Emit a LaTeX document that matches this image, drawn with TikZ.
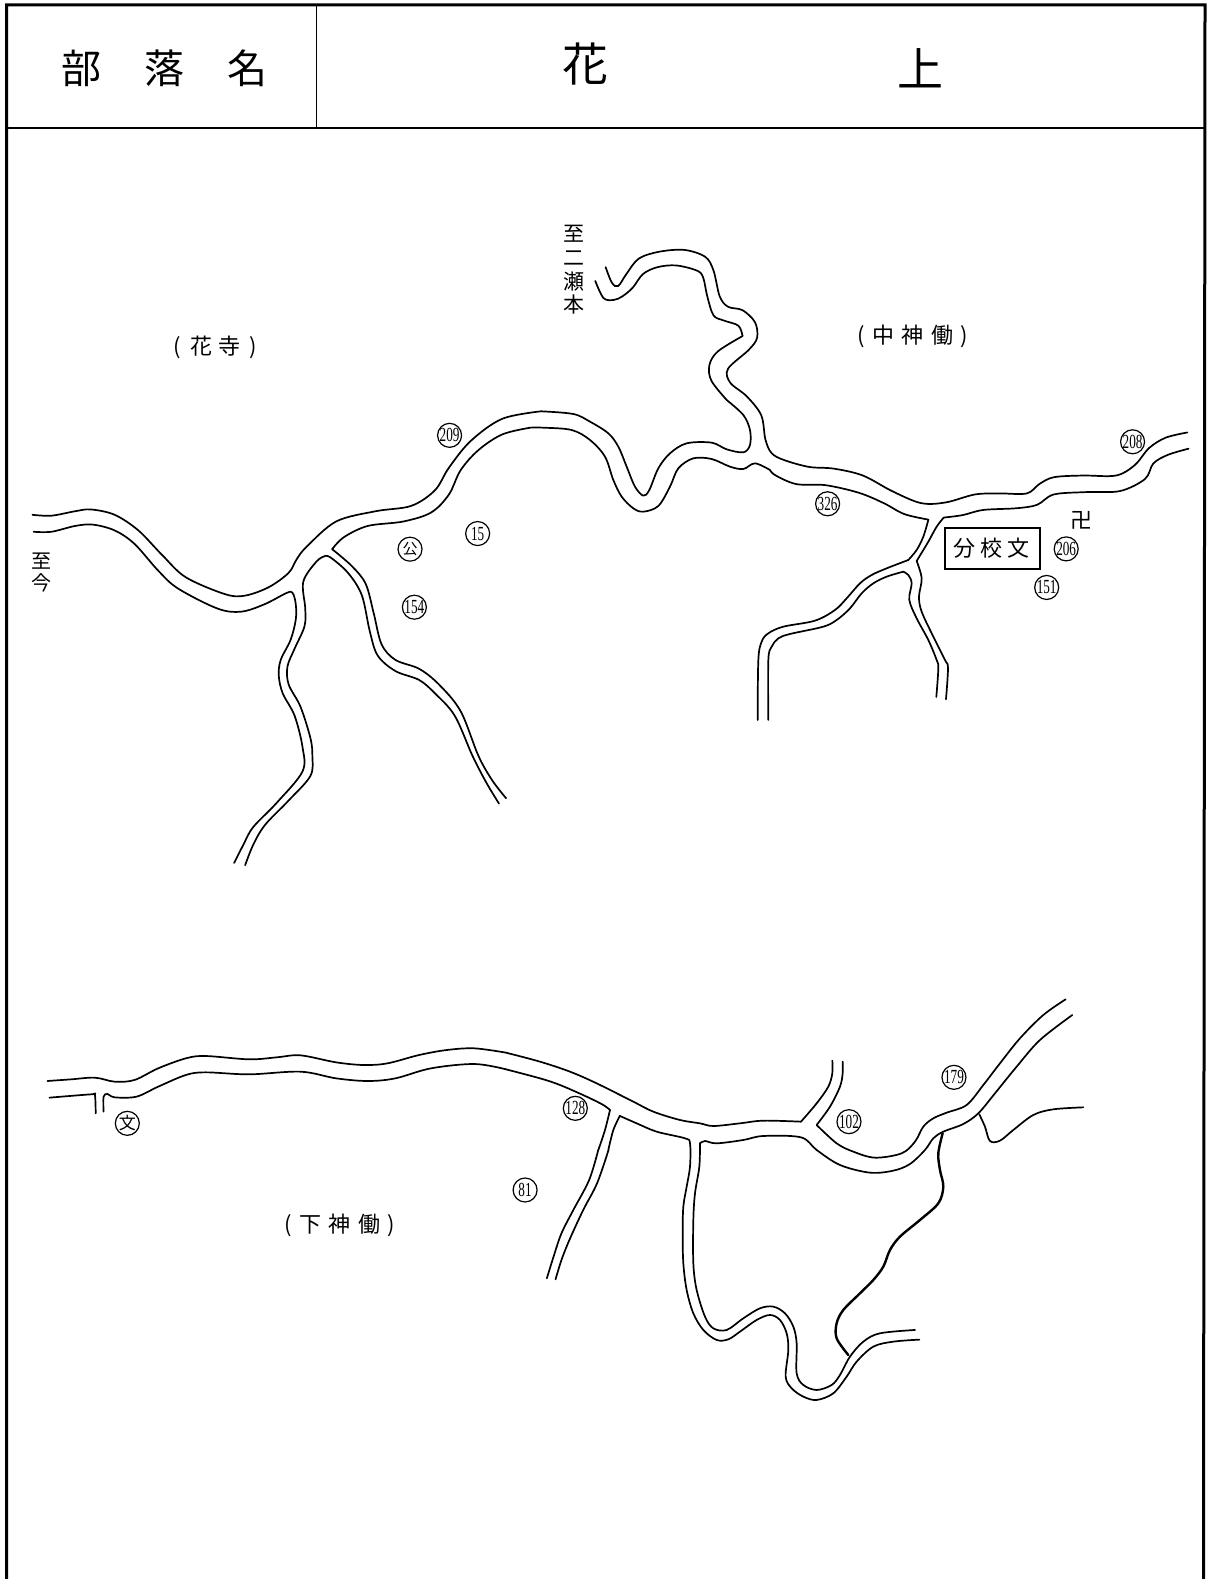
\documentclass[tikz,border=0pt]{standalone}
\usepackage{fontspec}
\newfontfamily\jp{Noto Sans CJK JP}
\newfontfamily\numf{Liberation Serif}
\newcommand{\rd}[1]{\draw[road] plot[smooth,tension=.55] coordinates {#1};}
\newcommand{\cn}[1]{{\numf\fontsize{20}{20}\selectfont\scalebox{.66}[1]{#1}}}
\tikzset{
  road/.style={line width=1.7pt,line cap=round,line join=round},
  creek/.style={line width=2.4pt,line cap=round,line join=round},
  frameline/.style={line width=3pt},
  zone/.style={inner sep=0pt,font=\jp\fontsize{22}{24}\selectfont,align=center},
  head/.style={inner sep=0pt,font=\jp\fontsize{40}{40}\selectfont},
  title/.style={inner sep=0pt,font=\jp\fontsize{46}{46}\selectfont},
  mark circle/.style={circle,draw,line width=1.2pt,minimum size=24pt,inner sep=0pt},
  za/.style={shift={(0,180)},x=.3954pt,y=-.4464pt},
  zb/.style={shift={(560,200)},x=.4149pt,y=-.3444pt},
  zc/.style={shift={(0,1030)},x=.3954pt,y=-.3333pt},
  zd/.style={shift={(600,980)},x=.3333pt,y=-.3333pt},
  ze/.style={shift={(740,500)},x=.3333pt,y=-.3333pt},
  zf/.style={shift={(540,1050)},x=.3333pt,y=-.3333pt},
  zg/.style={shift={(530,400)},x=.3333pt,y=-.3333pt}
}
\begin{document}
\begin{tikzpicture}[x=1pt,y=-1pt]
\useasboundingbox (0,0) rectangle (1208,1579);
\fill[white] (0,0) rectangle (1208,1579);
% frame
\draw[frameline] (6.5,1579) -- (6.5,5) -- (1205,5) -- (1203.5,1579);
\draw[line width=2pt] (6.5,127.5) -- (1205,127.5);
\draw[line width=1pt] (316,5) -- (316,127.5);
% header
\node[head] (h1) at (81,68) {部};
\node[head] (h2) at (164,68) {落};
\node[head] (h3) at (247,68) {名};
\node[title] (t1) at (585,64) {花};
\node[title] (t2) at (920,68) {上};
% upper left
\begin{scope}[za]
\rd{(82,750)(130,752)(190,742)(230,738)(290,750)(350,785)(410,840)(470,890)(570,928)(620,931)(680,912)(730,880)(750,850)(775,822)(850,765)(950,742)(1040,730)(1100,695)(1135,645)(1190,585)(1270,535)(1370,518)}
\rd{(85,788)(130,788)(190,775)(235,772)(290,785)(340,815)(400,875)(450,915)(550,960)(610,967)(670,950)(725,925)(740,925)(748,950)(748,985)(735,1030)(710,1075)(705,1110)(715,1150)(745,1200)(765,1270)(765,1325)(700,1395)(640,1450)(615,1490)(592,1530)}
\rd{(820,843)(800,855)(767,900)(772,960)(770,1000)(745,1050)(727,1090)(730,1130)(760,1180)(785,1250)(790,1290)(785,1335)(730,1390)(670,1445)(640,1490)(620,1535)}
\rd{(820,843)(835,845)(880,880)(915,930)(935,1010)(955,1065)(1000,1100)(1060,1120)(1100,1150)(1150,1200)(1195,1290)(1230,1350)(1262,1397)}
\rd{(840,827)(890,865)(925,905)(945,970)(965,1040)(1000,1075)(1060,1095)(1110,1130)(1165,1190)(1210,1290)(1245,1345)(1280,1385)}
\rd{(840,827)(870,800)(930,775)(1020,765)(1090,745)(1135,705)(1165,650)(1210,605)(1270,570)(1340,555)}
\node[mark circle] (c209) at (1137,572) {\cn{209}};
\node[mark circle] (c15) at (1208,792) {\cn{15}};
\node[mark circle] (ckou) at (1037,827) {\jp\fontsize{15}{15}\selectfont 公};
\node[mark circle] (c154) at (1048,957) {\cn{154}};
\end{scope}
% arc and dip of the upper road
\begin{scope}[zg]
\rd{(35,34)(130,42)(180,65)(235,100)(265,140)(290,200)(315,260)(340,287)(358,270)(385,205)(420,160)(470,130)(545,128)(590,148)(640,157)(660,135)(660,90)(640,45)(590,0)}
\rd{(-1,83)(40,83)(125,90)(180,120)(225,170)(250,240)(275,290)(310,325)(340,335)(385,318)(420,260)(445,205)(490,175)(545,177)(600,200)(640,207)(675,190)(720,210)}
\end{scope}
% upper right
\begin{scope}[zb]
\rd{(402,581)(365,525)(360,480)(380,440)(440,395)}
\rd{(440,395)(430,365)(395,350)(370,335)(355,280)(345,225)(330,205)(280,190)(235,195)(200,215)(175,255)(150,280)(130,290)(105,285)(85,235)}
\rd{(110,195)(125,240)(140,250)(160,215)(190,170)(240,150)(300,145)(350,165)(370,205)(385,280)(405,310)(440,320)(470,355)(475,400)(455,435)(405,490)(410,530)(450,570)(485,625)(495,695)(510,735)(540,755)(600,775)(660,780)(730,800)(800,845)(870,880)(930,878)(1000,855)(1060,852)(1125,852)(1155,825)(1190,805)(1260,800)(1340,800)(1385,770)(1420,720)(1460,690)(1512,675)}
\rd{(506,784)(520,800)(570,825)(640,828)(720,850)(780,880)(830,912)(888,928)}
\rd{(1515,722)(1465,740)(1430,765)(1410,810)(1350,845)(1270,848)(1190,855)(1150,885)(1100,895)(1020,900)(970,915)(925,922)}
\draw[line width=2pt] (928,952) rectangle (1157,1070);
\node[mark circle] (c326) at (645,882) {\cn{326}};
\node[mark circle] (c206) at (1220,1013) {\cn{206}};
\node[mark circle] (c151) at (1173,1125) {\cn{151}};
\node[mark circle] (c208) at (1380,702) {\cn{208}};
\node[zone] (bunko) at (1040,1010) {分\hspace{5pt}校\hspace{5pt}文};
\node[zone] (manji) at (1258,930) {卍};
\end{scope}
% junction south of the upper road
\begin{scope}[ze]
\rd{(565,60)(550,110)(530,150)(505,180)}
\rd{(505,180)(440,205)(395,225)(360,250)(320,295)(285,330)(225,362)(130,380)(85,400)(65,425)(55,480)(53,660)}
\rd{(490,215)(440,230)(400,250)(365,280)(330,325)(290,360)(250,380)(150,402)(115,415)(95,440)(85,480)(85,660)}
\rd{(611,53)(590,80)(565,125)(530,183)}
\rd{(530,183)(545,235)(537,290)(545,335)(580,410)(615,480)(624,504)(618,598)}
\rd{(490,215)(505,225)(515,250)(508,300)(530,355)(565,420)(590,480)(595,505)(589,591)}
\end{scope}
% lower left
\begin{scope}[zc]
\rd{(120,153)(180,148)(240,143)(290,155)(340,150)(400,115)(470,85)(520,78)(630,88)(700,82)(760,76)(850,97)(920,105)(980,100)(1060,75)(1130,60)(1200,55)(1280,68)}
\rd{(125,203)(230,193)(240,195)(242,250)}
\rd{(262,245)(262,200)(272,192)(290,202)(345,200)(400,170)(470,135)(520,127)(630,133)(760,125)(850,145)(930,153)(1000,145)(1090,115)(1200,102)(1280,118)}
\rd{(1513,360)(1490,450)(1450,540)(1420,610)(1400,680)(1383,745)}
\rd{(1539,360)(1510,460)(1475,540)(1440,630)(1420,690)(1405,748)}
\node[mark circle] (c128) at (1455,235) {\cn{128}};
\node[mark circle] (c81) at (1328,480) {\cn{81}};
\node[mark circle] (cbun) at (322,280) {\jp\fontsize{17}{17}\selectfont 文};
\end{scope}
% junction of the lower road
\begin{scope}[zf]
\rd{(-102,8)(0,35)(90,65)(170,100)(280,155)(340,185)(420,210)(480,220)(520,228)(600,220)(670,212)(783,215)}
\rd{(-102,58)(0,85)(60,105)(140,140)(190,165)(210,180)}
\rd{(210,180)(195,240)(175,300)}
\rd{(240,197)(220,240)(205,300)}
\end{scope}
% lower right
\begin{scope}[zd]
\rd{(603,425)(650,370)(685,320)(697,280)(697,242)}
\rd{(60,408)(110,430)(170,455)(255,475)(270,490)(270,560)(260,620)(250,680)(248,760)(250,850)(260,930)(280,1000)(310,1050)(350,1080)(385,1078)(420,1055)(470,1020)(510,1005)(540,1020)(560,1060)(565,1110)(557,1190)(575,1225)(610,1250)(650,1260)(700,1240)(740,1190)(770,1145)(820,1100)(880,1085)(958,1079)}
\rd{(300,490)(298,560)(285,640)(280,720)(280,850)(290,930)(315,1010)(340,1045)(380,1050)(430,1015)(480,985)(520,980)(555,1000)(580,1040)(590,1090)(590,1180)(610,1215)(650,1230)(695,1215)(720,1185)(750,1130)(790,1085)(840,1060)(945,1050)}
\rd{(300,490)(315,483)(350,490)(430,480)(490,468)(603,472)(650,510)(720,555)(810,578)(880,572)(930,552)(975,510)(1000,475)(1030,455)(1090,432)(1135,400)(1185,340)(1250,260)(1320,180)(1417,105)}
\rd{(650,435)(690,380)(720,320)(728,280)(728,245)}
\rd{(650,435)(710,490)(760,515)(825,533)(905,520)(945,485)(970,440)(1000,415)(1040,398)(1100,375)(1150,315)(1200,250)(1260,175)(1330,105)(1397,58)}
\draw[creek] plot[smooth,tension=.55] coordinates {(1028,460)(1015,520)(1020,570)(1030,620)(1015,670)(960,720)(900,770)(870,810)(850,860)(820,900)(780,940)(730,990)(710,1030)(710,1075)(745,1125)};
\rd{(1138,403)(1155,440)(1170,483)(1200,482)(1240,450)(1300,405)(1360,388)(1450,382)}
\node[mark circle] (c102) at (747,425) {\cn{102}};
\node[mark circle] (c179) at (1062,292) {\cn{179}};
\end{scope}
% place names
\node[zone] (hanadera) at (215.5,347) {(\hspace{9pt}花\hspace{7pt}寺\hspace{9pt})};
\node[zone] (naka) at (913,336) {(\hspace{8pt}中\hspace{7pt}神\hspace{7pt}働\hspace{8pt})};
\node[zone] (shimo) at (340,1225) {(\hspace{8pt}下\hspace{7pt}神\hspace{7pt}働\hspace{8pt})};
\node[zone,font=\jp\fontsize{21}{23.7}\selectfont] (nise) at (574,270) {至\\二\\瀬\\本};
\node[zone,font=\jp\fontsize{20}{22}\selectfont] (ima) at (41.5,573) {至\\今};
\end{tikzpicture}
\end{document}
